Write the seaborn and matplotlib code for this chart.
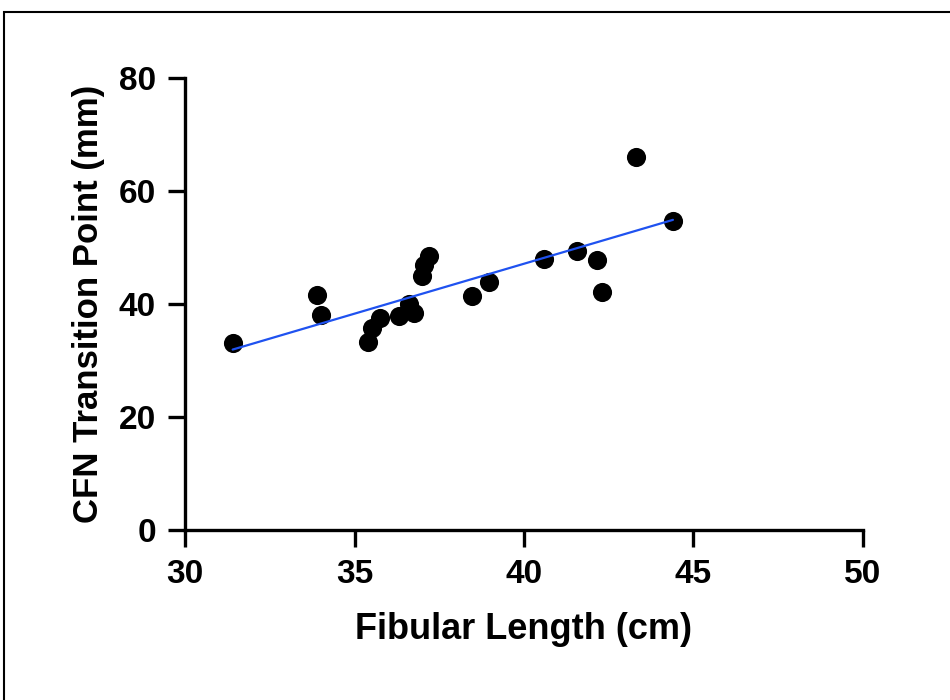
"""
plot.py — CFN transition point vs fibular length, with linear fit.
"""
import matplotlib
matplotlib.use("Agg")
import matplotlib.pyplot as plt
from matplotlib.patches import Rectangle
import numpy as np
import pandas as pd
import seaborn as sns

# ─── Data ────────────────────────────────────────────────────────────────────
fibular_length = [31.4, 33.9, 34.0, 35.4, 35.5, 35.75, 36.3, 36.6, 36.75,
                  37.0, 37.05, 37.2, 38.47, 38.97, 40.6, 41.56, 42.15, 42.3,
                  43.3, 44.4]
cfn_transition = [33.0, 41.6, 38.1, 33.3, 35.8, 37.4, 37.9, 40.0, 38.4,
                  44.9, 46.9, 48.4, 41.3, 43.9, 48.0, 49.3, 47.8, 42.1,
                  65.9, 54.6]

x_ticks = [30, 35, 40, 45, 50]
y_ticks = [0, 20, 40, 60, 80]

df = pd.DataFrame({"length": fibular_length, "cfn": cfn_transition})

# ─── Style ───────────────────────────────────────────────────────────────────
sns.set_style("ticks")
plt.rcParams["font.family"] = ["Liberation Sans", "DejaVu Sans"]
plt.rcParams["font.weight"] = "bold"

fig = plt.figure(figsize=(9.5, 7), dpi=100)
ax = fig.add_axes([0.195, 0.243, 0.713, 0.646])

sns.regplot(
    data=df, x="length", y="cfn", ax=ax, ci=None,
    scatter_kws={"s": 190, "color": "black", "alpha": 1, "linewidths": 0},
    line_kws={"color": "#1f52f0", "lw": 1.6},
)

ax.set_xlim(30, 50)
ax.set_ylim(0, 80)
ax.set_xticks(x_ticks)
ax.set_yticks(y_ticks)
ax.set_xlabel("Fibular Length (cm)", fontsize=26, fontweight="bold",
              color="black", labelpad=16)
ax.set_ylabel("CFN Transition Point (mm)", fontsize=25, fontweight="bold",
              color="black", labelpad=10)
ax.tick_params(axis="both", labelsize=24, width=2.4, length=12, pad=9,
               color="black", labelcolor="black")
for lbl in ax.get_xticklabels() + ax.get_yticklabels():
    lbl.set_fontweight("bold")

sns.despine(ax=ax)
for side in ("left", "bottom"):
    ax.spines[side].set_linewidth(2.4)
    ax.spines[side].set_color("black")

# frame around the figure (right/bottom edges run off the image)
fig.add_artist(Rectangle((4 / 950, -0.1), 1.2, (700 - 12) / 700 + 0.1,
                         transform=fig.transFigure, fill=False,
                         edgecolor="black", lw=1.5))

fig.savefig("out.png", dpi=100)
plt.close(fig)
